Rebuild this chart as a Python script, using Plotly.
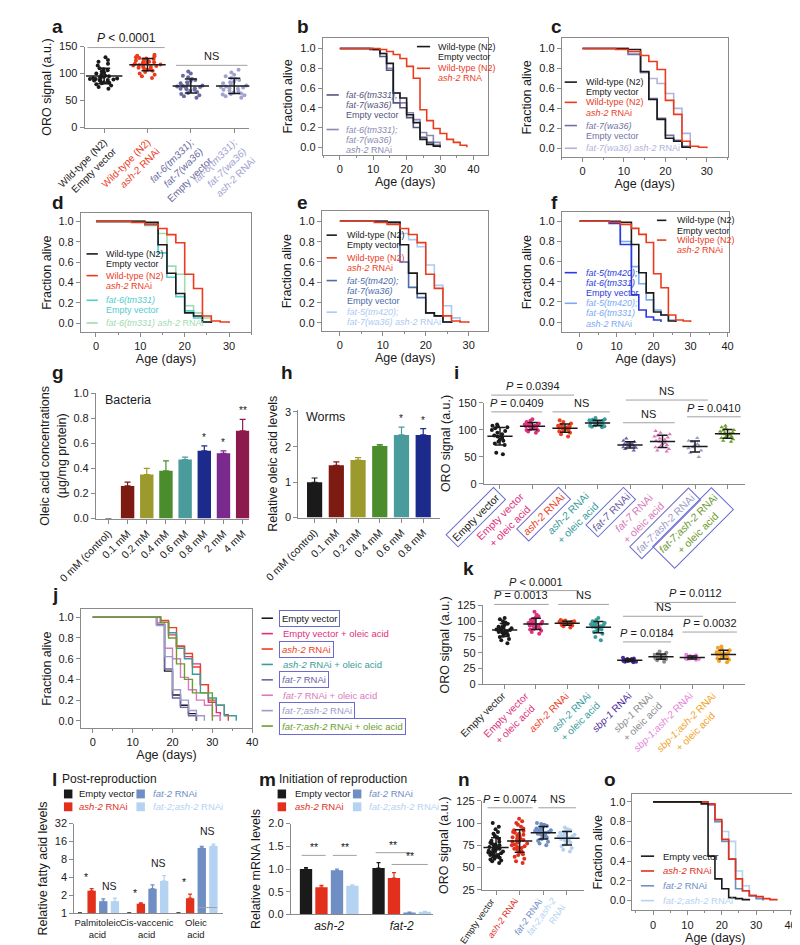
import numpy as np
import plotly.graph_objects as go

W, H = 800, 945
FONT = "Liberation Sans, Arial, Helvetica, sans-serif"
BLACK = "#1a1a1a"
AXC = "#8a8a8a"
RED = "#ec3b1c"

# ================= DATA =================
# --- a: ORO signal dot plot
a_labels = ["Wild-type (N2)<br>Empty vector", "Wild-type (N2)<br><i>ash-2</i> RNAi",
            "<i>fat-6(tm331);</i><br><i>fat-7(wa36)</i><br>Empty vector",
            "<i>fat-6(tm331);</i><br><i>fat-7(wa36)</i><br><i>ash-2</i> RNAi"]
a_colors = [BLACK, RED, "#6a6a9e", "#a2a2cf"]
a_wt_ev = [72, 75, 78, 80, 82, 83, 84, 85, 86, 87, 88, 88, 89, 90, 90, 91, 92, 92, 93, 94, 95, 96, 98,
           100, 102, 104, 106, 108, 110, 115, 118, 122, 125, 130]
a_wt_ash2 = [92, 95, 98, 100, 103, 105, 107, 108, 110, 111, 112, 113, 114, 115, 116, 117, 118, 118, 119,
             120, 121, 122, 123, 124, 125, 126, 127, 128, 129, 130, 132, 133, 135]
a_f67_ev = [55, 58, 60, 62, 64, 66, 68, 70, 71, 72, 73, 74, 75, 76, 77, 78, 80, 82, 84, 86, 88, 90, 93,
            96, 100, 104]
a_f67_ash2 = [55, 58, 60, 61, 62, 63, 65, 67, 68, 70, 72, 73, 74, 75, 76, 78, 80, 82, 84, 85, 88, 90, 92,
              95, 98, 102, 107]
a_series = [a_wt_ev, a_wt_ash2, a_f67_ev, a_f67_ash2]

# --- b survival
b_wt_t = [0, 10, 12, 14, 16, 18, 20, 22, 24, 26, 28, 30]
b_wt_s = [1, 0.99, 0.95, 0.85, 0.55, 0.5, 0.33, 0.25, 0.08, 0.03, 0.01, 0]
b_ash_t = [0, 12, 14, 16, 18, 20, 22, 24, 26, 28, 30, 32, 34, 36, 38]
b_ash_s = [1, 0.99, 0.97, 0.94, 0.9, 0.82, 0.7, 0.38, 0.27, 0.19, 0.14, 0.08, 0.05, 0.02, 0]
b_f67_t = [0, 9, 12, 14, 16, 18, 20, 22, 24, 26, 28, 30]
b_f67_s = [1, 0.99, 0.92, 0.78, 0.45, 0.4, 0.3, 0.2, 0.1, 0.05, 0.02, 0]
b_f67a_t = [0, 9, 12, 14, 16, 18, 20, 22, 24, 26, 28, 30]
b_f67a_s = [1, 0.99, 0.95, 0.8, 0.55, 0.45, 0.35, 0.28, 0.15, 0.12, 0.05, 0]

# --- wild-type curves shared by c-f
wt_t = [0, 11, 14, 16, 18, 20, 22, 24, 26]
wt_s = [1, 0.99, 0.77, 0.49, 0.29, 0.1, 0.07, 0.01, 0]
wta_t = [0, 8, 11, 14, 16, 18, 20, 22, 24, 26, 28, 30]
wta_s = [1, 0.99, 0.97, 0.93, 0.87, 0.79, 0.48, 0.34, 0.07, 0.02, 0.01, 0]
# c
c_f7_t = [0, 11, 14, 16, 18, 20, 22, 24, 26]
c_f7_s = [1, 0.94, 0.76, 0.5, 0.3, 0.13, 0.08, 0.02, 0]
c_f7a_t = [0, 11, 14, 16, 18, 20, 22, 24, 26]
c_f7a_s = [1, 0.95, 0.76, 0.7, 0.65, 0.55, 0.4, 0.15, 0]
# d
d_f6_t = [0, 11, 14, 16, 18, 20, 22, 24, 26]
d_f6_s = [1, 0.96, 0.69, 0.45, 0.26, 0.12, 0.05, 0.01, 0]
d_f6a_t = [0, 11, 14, 16, 18, 20, 22, 24, 26]
d_f6a_s = [1, 0.98, 0.88, 0.56, 0.48, 0.17, 0.1, 0.05, 0]
# e
e_f57_t = [0, 11, 14, 16, 18, 20, 22, 24, 26]
e_f57_s = [1, 0.99, 0.6, 0.35, 0.25, 0.1, 0.07, 0.01, 0]
e_f57a_t = [0, 11, 14, 16, 18, 20, 22, 24, 26, 28]
e_f57a_s = [1, 0.99, 0.88, 0.82, 0.75, 0.57, 0.37, 0.17, 0.05, 0]
# f
f_f56_t = [0, 8, 11, 14, 16, 18, 20, 22]
f_f56_s = [1, 0.98, 0.77, 0.27, 0.12, 0.05, 0.02, 0]
f_f56a_t = [0, 8, 11, 14, 16, 18, 20, 22, 24, 26]
f_f56a_s = [1, 0.99, 0.8, 0.55, 0.38, 0.22, 0.12, 0.07, 0.02, 0]

# --- g bacteria oleic acid
g_labels = ["0 mM (control)", "0.1 mM", "0.2 mM", "0.4 mM", "0.6 mM", "0.8 mM", "2 mM", "4 mM"]
g_vals = [0, 0.26, 0.35, 0.38, 0.47, 0.54, 0.52, 0.70]
g_err = [0, 0.03, 0.05, 0.08, 0.02, 0.04, 0.02, 0.09]
g_stars = ["", "", "", "", "", "*", "*", "**"]
g_colors = [BLACK, "#7d1a12", "#9c9a2c", "#4b8c2c", "#4a9b9b", "#1c2a8c", "#7a2a8c", "#8c1a4c"]
# --- h worms
h_labels = ["0 mM (control)", "0.1 mM", "0.2 mM", "0.4 mM", "0.6 mM", "0.8 mM"]
h_vals = [1.0, 1.48, 1.63, 2.03, 2.34, 2.34]
h_err = [0.12, 0.10, 0.07, 0.04, 0.22, 0.18]
h_stars = ["", "", "", "", "*", "*"]
h_colors = [BLACK, "#7d1a12", "#9c9a2c", "#4b8c2c", "#4a9b9b", "#1c2a8c"]

# --- i
i_labels = ["Empty vector", "Empty vector<br>+ oleic acid", "<i>ash-2</i> RNAi",
            "<i>ash-2</i> RNAi<br>+ oleic acid", "<i>fat-7</i> RNAi", "<i>fat-7</i> RNAi<br>+ oleic acid",
            "<i>fat-7;ash-2</i> RNAi", "<i>fat-7;ash-2</i> RNAi<br>+ oleic acid"]
i_colors = [BLACK, "#e0307c", "#ec401e", "#3a9c9c", "#6c62a6", "#d87abc", "#9c9cca", "#6c9c2c"]
i_boxed = [True, False, True, False, True, False, True, True]
i_symbols = ["circle"] * 4 + ["triangle-up"] * 4
i_ev = [55, 58, 72, 75, 78, 80, 82, 85, 88, 90, 92, 95, 98, 100, 103, 105, 107, 108, 110]
i_ev_ole = [95, 97, 99, 100, 102, 103, 104, 105, 106, 107, 108, 109, 110, 110, 111, 112, 113, 115, 117, 120]
i_ash2 = [88, 92, 95, 97, 98, 100, 101, 102, 103, 104, 105, 106, 107, 108, 110, 112, 115, 118]
i_ash2_ole = [105, 106, 107, 108, 109, 110, 111, 112, 113, 114, 115, 116, 117, 118, 119, 120, 122]
i_f7 = [62, 65, 67, 68, 70, 70, 71, 72, 73, 74, 75, 76, 78, 80, 84]
i_f7_ole = [60, 62, 65, 68, 70, 72, 74, 76, 78, 80, 82, 84, 86, 88, 90, 92, 95, 98]
i_f7a2 = [50, 58, 62, 66, 68, 70, 72, 74, 78, 80, 85]
i_f7a2_ole = [78, 80, 83, 85, 87, 88, 90, 91, 92, 93, 94, 95, 96, 97, 99, 100, 103, 105, 108]
i_series = [i_ev, i_ev_ole, i_ash2, i_ash2_ole, i_f7, i_f7_ole, i_f7a2, i_f7a2_ole]

# --- j survival with oleic acid
j_names = ["Empty vector", "Empty vector + oleic acid", "<i>ash-2</i> RNAi", "<i>ash-2</i> RNAi + oleic acid",
           "<i>fat-7</i> RNAi", "<i>fat-7</i> RNAi + oleic acid", "<i>fat-7;ash-2</i> RNAi",
           "<i>fat-7;ash-2</i> RNAi + oleic acid"]
j_t = [[0, 16, 18, 20, 22, 24, 26],
       [0, 17, 19, 21, 23, 25, 27, 29, 31, 32],
       [0, 17, 19, 21, 23, 25, 27, 29, 31, 33, 34],
       [0, 17, 19, 21, 23, 25, 27, 29, 31, 33, 36],
       [0, 16, 18, 20, 22, 24, 26],
       [0, 16, 18, 20, 22, 24, 26, 28, 30, 32],
       [0, 16, 18, 20, 22, 24, 26, 28],
       [0, 17, 19, 21, 23, 25, 30]]
j_s = [[1, 0.93, 0.48, 0.25, 0.15, 0.07, 0],
       [1, 0.95, 0.83, 0.72, 0.62, 0.55, 0.35, 0.18, 0.08, 0],
       [1, 0.97, 0.9, 0.72, 0.65, 0.52, 0.35, 0.2, 0.15, 0.06, 0],
       [1, 0.95, 0.85, 0.7, 0.6, 0.45, 0.27, 0.22, 0.15, 0.05, 0],
       [1, 0.93, 0.5, 0.22, 0.13, 0.05, 0],
       [1, 0.95, 0.7, 0.6, 0.42, 0.3, 0.2, 0.15, 0.05, 0],
       [1, 0.92, 0.62, 0.3, 0.2, 0.1, 0.05, 0],
       [1, 0.95, 0.8, 0.55, 0.4, 0.27, 0]]
j_boxed = [True, False, True, False, True, False, True, True]

# --- k
k_labels = ["Empty vector", "Empty vector<br>+ oleic acid", "<i>ash-2</i> RNAi",
            "<i>ash-2</i> RNAi<br>+ oleic acid", "<i>sbp-1</i> RNAi", "<i>sbp-1</i> RNAi<br>+ oleic acid",
            "<i>sbp-1;ash-2</i> RNAi", "<i>sbp-1;ash-2</i> RNAi<br>+ oleic acid"]
k_colors = [BLACK, "#e0307c", "#ec401e", "#3a9c9c", "#4a2a9c", "#8c8c8c", "#e484dc", "#f2a224"]
k_ev = [65, 70, 72, 75, 77, 78, 80, 81, 82, 83, 84, 85, 86, 87, 88, 89, 90, 91, 92, 94, 96, 98, 100, 103, 105]
k_ev_ole = [80, 83, 85, 87, 88, 89, 90, 91, 92, 93, 94, 95, 96, 97, 98, 99, 100, 102, 104, 106, 108, 110, 115]
k_ash2 = [90, 92, 93, 94, 95, 95, 96, 96, 97, 97, 98, 98, 99, 99, 100, 100, 101, 102]
k_ash2_ole = [70, 75, 80, 83, 85, 87, 88, 89, 90, 91, 92, 93, 94, 95, 96, 97, 98, 100, 102, 105]
k_sbp1 = [35, 36, 36, 37, 37, 38, 38, 38, 39, 39, 40, 40, 41, 42]
k_sbp1_ole = [36, 38, 40, 41, 42, 42, 43, 43, 44, 44, 45, 45, 46, 47, 48, 50, 52]
k_sbp1a2 = [39, 40, 40, 41, 41, 42, 42, 42, 43, 43, 44, 45, 46, 47]
k_sbp1a2_ole = [35, 37, 39, 41, 42, 43, 44, 45, 46, 47, 48, 49, 50, 51, 52, 54, 56, 58, 60]
k_series = [k_ev, k_ev_ole, k_ash2, k_ash2_ole, k_sbp1, k_sbp1_ole, k_sbp1a2, k_sbp1a2_ole]

# --- l/m/n/o (fat-2)
lm_names = ["Empty vector", "<i>ash-2</i> RNAi", "<i>fat-2</i> RNAi", "<i>fat-2;ash-2</i> RNAi"]
lm_colors = [BLACK, "#e2301c", "#6e8ec4", "#b4d2f2"]
n_ticklabels = ["Empty vector", "<i>ash-2</i> RNAi", "<i>fat-2</i> RNAi", "<i>fat-2;ash-2</i><br>RNAi"]
l_groups = ["Palmitoleic<br>acid", "Cis-vaccenic<br>acid", "Oleic<br>acid"]
l_vals = [[1.0, 1.0, 1.0], [2.4, 1.45, 1.8], [1.6, 2.6, 12.5], [1.6, 3.5, 13.5]]
l_err = [[0.02, 0.02, 0.02], [0.2, 0.06, 0.3], [0.15, 0.4, 0.8], [0.2, 0.8, 1.0]]
m_groups = ["<i>ash-2</i>", "<i>fat-2</i>"]
m_vals = [[1.0, 1.02], [0.6, 0.8], [0.97, 0.04], [0.63, 0.06]]
m_err = [[0.03, 0.12], [0.04, 0.12], [0.03, 0.01], [0.02, 0.01]]
n_ev = [55, 57, 58, 59, 60, 61, 62, 62, 63, 64, 64, 65, 66, 67, 67, 68, 68, 69, 70, 70, 71, 72, 72, 73, 74,
        75, 75, 76, 77, 78, 79, 80, 82, 84, 86, 88, 90, 93, 96, 100]
n_ash2 = [55, 57, 60, 62, 64, 65, 67, 68, 70, 71, 72, 73, 74, 75, 76, 77, 78, 79, 80, 80, 81, 82, 83, 84, 85,
          86, 87, 88, 89, 90, 91, 92, 94, 96, 98, 100, 102, 105]
n_fat2 = [75, 77, 79, 80, 82, 84, 85, 86, 87, 88, 89, 90, 90, 91, 92, 92, 93, 94, 95, 96, 97, 98, 99, 100]
n_fat2ash2 = [68, 70, 72, 74, 76, 78, 79, 80, 81, 82, 83, 84, 85, 85, 86, 87, 88, 89, 90, 91, 92, 93, 95]
n_series = [n_ev, n_ash2, n_fat2, n_fat2ash2]
o_t = [[0, 14, 16, 18, 20, 22, 24, 26, 28],
       [0, 16, 18, 20, 22, 24, 26, 28, 30, 32, 34, 36],
       [0, 16, 18, 20, 22, 24, 26, 28, 30, 32],
       [0, 16, 18, 20, 22, 24, 26, 28, 30, 32]]
o_s = [[1, 0.98, 0.45, 0.22, 0.12, 0.03, 0.02, 0.01, 0],
       [1, 0.98, 0.82, 0.62, 0.42, 0.22, 0.1, 0.05, 0.04, 0.02, 0.01, 0],
       [1, 0.97, 0.8, 0.6, 0.42, 0.12, 0.1, 0.05, 0.02, 0],
       [1, 0.97, 0.8, 0.7, 0.6, 0.3, 0.15, 0.05, 0.02, 0]]

# ================= HELPERS =================
fig = go.Figure()
layout = dict(width=W, height=H, margin=dict(l=0, r=0, t=0, b=0), paper_bgcolor="white",
              plot_bgcolor="white", showlegend=False, barmode="overlay", boxmode="overlay",
              font=dict(family=FONT, size=11, color=BLACK))
annotations, shapes = [], []
counter = [0]


def px(x):
    return x / W


def py(y):
    return 1 - y / H


def axes(x0, x1, y0, y1, xr, yr, box=False, xkw=None, ykw=None, xt=None, yt=None, tsize=12.5):
    counter[0] += 1
    n = counter[0]
    s = "" if n == 1 else str(n)
    def base():
        return dict(showline=True, linecolor=AXC, linewidth=1, mirror=box, ticks="outside", ticklen=4,
                    tickwidth=1, tickcolor=AXC, showgrid=False, zeroline=False,
                    tickfont=dict(size=11, color=BLACK, family=FONT))
    xa = base()
    xa.update(domain=[px(x0), px(x1)], range=xr, anchor="y" + s)
    ya = base()
    ya.update(domain=[py(y1), py(y0)], range=yr, anchor="x" + s)
    if xt:
        xa["title"] = dict(text=xt, font=dict(size=tsize, color=BLACK, family=FONT), standoff=2)
    if yt:
        ya["title"] = dict(text=yt, font=dict(size=tsize, color=BLACK, family=FONT), standoff=4)
    if xkw:
        xa.update(xkw)
    if ykw:
        ya.update(ykw)
    layout["xaxis" + s] = xa
    layout["yaxis" + s] = ya
    return "x" + s, "y" + s


def txt(x, y, s, size=11, color=BLACK, xa="center", ya="middle", angle=0, **kw):
    d = dict(xref="paper", yref="paper", x=px(x), y=py(y), text=s, showarrow=False, xanchor=xa,
             yanchor=ya, textangle=angle, font=dict(size=size, color=color, family=FONT))
    d.update(kw)
    annotations.append(d)


def hline(x0, x1, y, color="#a0a0a0", width=1):
    shapes.append(dict(type="line", xref="paper", yref="paper", x0=px(x0), x1=px(x1), y0=py(y), y1=py(y),
                       line=dict(color=color, width=width)))


def bracket(x0, x1, y, label, size=11):
    hline(x0, x1, y)
    txt((x0 + x1) / 2, y - 1, label, size=size, ya="bottom")


def letter(x, y, s):
    txt(x, y, "<b>%s</b>" % s, size=19, xa="left", ya="middle")


def colorize(t, c):
    return "<br>".join('<span style="color:%s">%s</span>' % (c, p) for p in t.split("<br>"))


def surv(xa, ya, t, s, color, width=1.6):
    fig.add_trace(go.Scatter(x=t, y=s, mode="lines", line=dict(color=color, width=width, shape="hv"),
                             xaxis=xa, yaxis=ya, hoverinfo="skip"))


def sleg(x0, x1, y, color, lines, tx, dy=10.3, size=9):
    hline(x0, x1, y, color=color, width=1.6)
    for k, l in enumerate(lines):
        txt(tx, y + k * dy, l, size=size, color=color, xa="left")


def cloud(xa, ya, pos, vals, color, symbol="circle", size=4, width=0.7, jitter=0.9, mean_w=22, cap=6):
    fig.add_trace(go.Box(x=[pos] * len(vals), y=vals, xaxis=xa, yaxis=ya, boxpoints="all", jitter=jitter,
                         pointpos=0, width=width, marker=dict(color=color, size=size, symbol=symbol),
                         line=dict(width=0, color="rgba(0,0,0,0)"), fillcolor="rgba(0,0,0,0)",
                         hoverinfo="skip"))
    m, s = float(np.mean(vals)), float(np.std(vals, ddof=1))
    fig.add_trace(go.Scatter(x=[pos], y=[m], xaxis=xa, yaxis=ya, mode="markers",
                             marker=dict(symbol="line-ew", size=mean_w, color=BLACK,
                                         line=dict(width=1.5, color=BLACK)),
                             error_y=dict(type="data", array=[s], color=BLACK, thickness=1.5, width=cap),
                             hoverinfo="skip"))


SURV_Y = dict(tickvals=[0, 0.2, 0.4, 0.6, 0.8, 1.0], tickformat=".1f")


def surv_x(vals):
    return dict(tickvals=vals, minor=dict(ticks="outside", dtick=5, ticklen=2, tickcolor=AXC))


# ================= PANEL a =================
letter(3, 13, "a")
xa, ya = axes(40, 215, 33, 115, [-0.45, 3.35], [0, 150],
              xkw=dict(tickvals=[0, 1, 2, 3], ticktext=[colorize(t, c) for t, c in zip(a_labels, a_colors)],
                       tickangle=-45, tickfont=dict(size=10, family=FONT)),
              ykw=dict(tickvals=[0, 50, 100, 150]), yt="ORO signal (a.u.)")
for i, (v, c) in enumerate(zip(a_series, a_colors)):
    cloud(xa, ya, i, v, c, width=0.75, mean_w=26)
bracket(43, 125, 34, "<i>P</i> < 0.0001", size=12)
bracket(137, 213, 52, "NS")

# ================= PANEL b =================
letter(263, 13, "b")
xa, ya = axes(293, 468, 24, 143, [-5.1, 44.2], [-0.08, 1.11], box=True, xkw=surv_x([0, 10, 20, 30, 40]),
              ykw=SURV_Y, xt="Age (days)", yt="Fraction alive")
surv(xa, ya, b_f67a_t, b_f67a_s, "#8a8ab2")
surv(xa, ya, b_f67_t, b_f67_s, "#55557c")
surv(xa, ya, b_wt_t, b_wt_s, BLACK)
surv(xa, ya, b_ash_t, b_ash_s, RED)
sleg(393, 407, 33, BLACK, ["Wild-type (N2)", "Empty vector"], 413)
sleg(393, 407, 55, RED, ["Wild-type (N2)", "<i>ash-2</i> RNA"], 413)
sleg(297, 310, 82, "#55557c", ["<i>fat-6(tm331);</i>", "<i>fat-7(wa36)</i>", "Empty vector"], 316)
sleg(297, 310, 117, "#8a8ab2", ["<i>fat-6(tm331);</i>", "<i>fat-7(wa36)</i>", "<i>ash-2</i> RNAi"], 316)

# ================= PANEL c =================
letter(533, 13, "c")
xa, ya = axes(547, 723, 24, 145, [-5, 35], [-0.089, 1.109], box=True, xkw=surv_x([0, 10, 20, 30]),
              ykw=SURV_Y, xt="Age (days)", yt="Fraction alive")
surv(xa, ya, c_f7a_t, c_f7a_s, "#b2b2da")
surv(xa, ya, c_f7_t, c_f7_s, "#7272a4")
surv(xa, ya, wt_t, wt_s, BLACK)
surv(xa, ya, wta_t, wta_s, RED)
sleg(550, 563, 69, BLACK, ["Wild-type (N2)", "Empty vector"], 570)
sleg(550, 563, 89.5, RED, ["Wild-type (N2)", "<i>ash-2</i> RNAi"], 570)
sleg(550, 563, 113, "#7272a4", ["<i>fat-7(wa36)</i>", "Empty vector"], 570)
sleg(550, 563, 136, "#b2b2da", ["<i>fat-7(wa36) ash-2</i> RNAi"], 570)

# ================= PANEL d =================
letter(3, 191, "d")
xa, ya = axes(36, 217, 202, 322, [-3.4, 35], [-0.087, 1.078], box=True, xkw=surv_x([0, 10, 20, 30]),
              ykw=SURV_Y, xt="Age (days)", yt="Fraction alive")
surv(xa, ya, d_f6a_t, d_f6a_s, "#9edcb0")
surv(xa, ya, d_f6_t, d_f6_s, "#52cccc")
surv(xa, ya, wt_t, wt_s, BLACK)
surv(xa, ya, wta_t, wta_s, RED)
sleg(42, 54, 243, BLACK, ["Wild-type (N2)", "Empty vector"], 61)
sleg(42, 54, 265, RED, ["Wild-type (N2)", "<i>ash-2</i> RNAi"], 61)
sleg(42, 54, 290, "#52cccc", ["<i>fat-6(tm331)</i>", "Empty vector"], 61)
sleg(42, 54, 313, "#9edcb0", ["<i>fat-6(tm331) ash-2</i> RNAi"], 61)

# ================= PANEL e =================
letter(263, 191, "e")
xa, ya = axes(292, 469, 200, 321, [-4.2, 34.6], [-0.078, 1.097], box=True, xkw=surv_x([0, 10, 20, 30]),
              ykw=SURV_Y, xt="Age (days)", yt="Fraction alive")
surv(xa, ya, e_f57a_t, e_f57a_s, "#aacaf2")
surv(xa, ya, e_f57_t, e_f57_s, "#4c6caa")
surv(xa, ya, wt_t, wt_s, BLACK)
surv(xa, ya, wta_t, wta_s, RED)
sleg(297, 308, 224, BLACK, ["Wild-type (N2)", "Empty vector"], 317)
sleg(297, 308, 247, RED, ["Wild-type (N2)", "<i>ash-2</i> RNAi"], 317)
sleg(297, 308, 270, "#4c6caa", ["<i>fat-5(tm420);</i>", "<i>fat-7(wa36)</i>", "Empty vector"], 317)
sleg(297, 308, 302, "#aacaf2", ["<i>fat-5(tm420);</i>", "<i>fat-7(wa36) ash-2</i> RNAi"], 317)

# ================= PANEL f =================
letter(533, 191, "f")
xa, ya = axes(547, 725, 201, 322, [-4.8, 40.5], [-0.098, 1.088], box=True,
              xkw=surv_x([0, 10, 20, 30, 40]), ykw=SURV_Y, xt="Age (days)", yt="Fraction alive")
surv(xa, ya, f_f56a_t, f_f56a_s, "#7aaaf2")
surv(xa, ya, f_f56_t, f_f56_s, "#2c3cdc")
surv(xa, ya, wt_t, wt_s, BLACK)
surv(xa, ya, wta_t, wta_s, RED)
sleg(648, 658, 209, BLACK, ["Wild-type (N2)", "Empty vector"], 667)
sleg(648, 658, 229, RED, ["Wild-type (N2)", "<i>ash-2</i> RNAi"], 667)
sleg(550, 563, 262, "#2c3cdc", ["<i>fat-5(tm420);</i>", "<i>fat-6(tm331)</i>", "Empty vector"], 570)
sleg(550, 563, 293, "#7aaaf2", ["<i>fat-5(tm420);</i>", "<i>fat-6(tm331)</i>", "<i>ash-2</i> RNAi"], 570)

# ================= PANEL g =================
letter(3, 363, "g")
xa, ya = axes(52, 215, 384, 511, [-0.65, 7.35], [0, 1.0],
              xkw=dict(tickvals=list(range(8)), ticktext=g_labels, tickangle=-45,
                       tickfont=dict(size=10.5, family=FONT)),
              ykw=dict(tickvals=[0, 0.2, 0.4, 0.6, 0.8, 1.0], tickformat=".1f"),
              yt="Oleic acid concentrations<br>(µg/mg protein)")
for i, (v, e, c, s) in enumerate(zip(g_vals, g_err, g_colors, g_stars)):
    fig.add_trace(go.Bar(x=[i], y=[v], width=0.7, marker=dict(color=c, line=dict(width=0)), xaxis=xa, yaxis=ya,
                         error_y=dict(type="data", array=[e], arrayminus=[0], symmetric=False, color=c,
                                      thickness=1.2, width=3), hoverinfo="skip"))
    if s:
        annotations.append(dict(xref=xa, yref=ya, x=i, y=v + e + 0.01, text=s, showarrow=False, yanchor="bottom",
                                font=dict(size=10, color=BLACK, family=FONT)))
txt(60, 391, "Bacteria", size=12.5, xa="left")

# ================= PANEL h =================
letter(247, 363, "h")
xa, ya = axes(267, 417, 401, 510, [-0.75, 5.75], [0, 3.05],
              xkw=dict(tickvals=list(range(6)), ticktext=h_labels, tickangle=-45,
                       tickfont=dict(size=10.5, family=FONT)),
              ykw=dict(tickvals=[0, 1, 2, 3]), yt="Relative oleic acid levels")
for i, (v, e, c, s) in enumerate(zip(h_vals, h_err, h_colors, h_stars)):
    fig.add_trace(go.Bar(x=[i], y=[v], width=0.7, marker=dict(color=c, line=dict(width=0)), xaxis=xa, yaxis=ya,
                         error_y=dict(type="data", array=[e], arrayminus=[0], symmetric=False, color=c,
                                      thickness=1.2, width=3), hoverinfo="skip"))
    if s:
        annotations.append(dict(xref=xa, yref=ya, x=i, y=v + e + 0.03, text=s, showarrow=False, yanchor="bottom",
                                font=dict(size=10, color=BLACK, family=FONT)))
txt(273, 408, "Worms", size=12.5, xa="left")

# ================= PANEL i =================
letter(430, 363, "i")
xa, ya = axes(464, 742, 394, 476, [-0.5, 7.55], [0, 150],
              xkw=dict(tickvals=list(range(8)), showticklabels=False),
              ykw=dict(tickvals=[0, 50, 100, 150]), yt="ORO signal (a.u.)")
for i, (v, c, sym) in enumerate(zip(i_series, i_colors, i_symbols)):
    cloud(xa, ya, i, v, c, symbol=sym, size=4, width=0.6, mean_w=18, cap=5)
for i, (t, c, b) in enumerate(zip(i_labels, i_colors, i_boxed)):
    d = dict(xref=xa, yref="paper", x=i + 0.2, y=py(479), text=t, showarrow=False, xanchor="right",
             yanchor="top", textangle=-45, align="center", font=dict(size=10.5, color=c, family=FONT))
    if b:
        d.update(bordercolor="#6a6ad0", borderwidth=1, borderpad=2)
    annotations.append(d)
bracket(472, 560, 386, "<i>P</i> = 0.0394")
bracket(472, 526, 403, "<i>P</i> = 0.0409")
bracket(537, 598, 403, "NS")
bracket(615, 702, 391, "NS")
bracket(612, 667, 414, "NS")
bracket(680, 737, 408, "<i>P</i> = 0.0410")

# ================= PANEL j =================
letter(3, 588, "j")
xa, ya = axes(36, 218, 603, 723, [-3, 40], [-0.067, 1.076], box=True, xkw=surv_x([0, 10, 20, 30, 40]),
              ykw=SURV_Y, xt="Age (days)", yt="Fraction alive")
for t, s, c in zip(j_t, j_s, i_colors):
    surv(xa, ya, t, s, c, width=1.4)
for k, (nm, c, b) in enumerate(zip(j_names, i_colors, j_boxed)):
    y = 612 + k * 15.6
    hline(228, 240, y, color=c, width=1.6)
    d = dict(xref="paper", yref="paper", x=px(246), y=py(y), text=nm, showarrow=False, xanchor="left",
             yanchor="middle", font=dict(size=9.5, color=c, family=FONT))
    if b:
        d.update(bordercolor="#6a6ad0", borderwidth=1, borderpad=2)
    else:
        d.update(borderpad=3)
    annotations.append(d)

# ================= PANEL k =================
letter(440, 562, "k")
xa, ya = axes(463, 742, 599, 679, [-0.7, 7.7], [0, 125],
              xkw=dict(tickvals=list(range(8)), showticklabels=False),
              ykw=dict(tickvals=[0, 25, 50, 75, 100, 125]), yt="ORO signal (a.u.)")
for i, (v, c) in enumerate(zip(k_series, k_colors)):
    cloud(xa, ya, i, v, c, size=4, width=0.6, mean_w=18, cap=5)
for i, (t, c) in enumerate(zip(k_labels, k_colors)):
    annotations.append(dict(xref=xa, yref="paper", x=i + 0.2, y=py(682), text=t, showarrow=False,
                            xanchor="right", yanchor="top", textangle=-45, align="center",
                            font=dict(size=10, color=c, family=FONT)))
bracket(475, 565, 584, "<i>P</i> < 0.0001")
bracket(475, 533, 598, "<i>P</i> = 0.0013")
bracket(543, 597, 598, "NS")
bracket(645, 732, 596, "<i>P</i> = 0.0112")
bracket(612, 697, 610, "NS")
bracket(675, 733, 626, "<i>P</i> = 0.0032")
bracket(612, 663, 636, "<i>P</i> = 0.0184")

# ================= PANEL l =================
letter(3, 775, "l")
txt(14, 775, "Post-reproduction", size=12, xa="left")
xa, ya = axes(29, 187, 820, 911, [-0.47, 2.55], [0, np.log10(32)],
              xkw=dict(tickvals=[0, 1, 2], ticktext=l_groups, ticks="", tickangle=0,
                       tickfont=dict(size=9.5, family=FONT)),
              ykw=dict(type="log", tickvals=[1, 2, 4, 8, 16, 32], ticktext=["1", "2", "4", "8", "16", "32"]),
              yt="Relative fatty acid levels")
offs = [-0.355, -0.118, 0.118, 0.355]
for vals, errs, c, o in zip(l_vals, l_err, lm_colors, offs):
    fig.add_trace(go.Bar(x=[0, 1, 2], y=vals, width=0.17, offset=o - 0.085, marker=dict(color=c, line=dict(width=0)),
                         error_y=dict(type="data", array=errs, arrayminus=[0, 0, 0], symmetric=False, color=c,
                                      thickness=1.2, width=2), xaxis=xa, yaxis=ya, hoverinfo="skip"))
for x0, x1, yv, lab in [(-0.43, -0.05, 3.0, "*"), (0.05, 0.43, 2.1, "NS"), (0.57, 0.95, 1.6, "*"),
                        (1.05, 1.43, 5.2, "NS"), (1.57, 1.95, 2.5, "*"), (2.05, 2.43, 18, "NS")]:
    shapes.append(dict(type="line", xref=xa, yref=ya, x0=x0, x1=x1, y0=np.log10(yv), y1=np.log10(yv),
                       line=dict(color="#a0a0a0", width=1)))
    annotations.append(dict(xref=xa, yref=ya, x=(x0 + x1) / 2, y=np.log10(yv), text=lab, showarrow=False,
                            yanchor="bottom", font=dict(size=10.5, color=BLACK, family=FONT)))


def sq_legend(x1, x2, tx1, tx2):
    for k, (nm, c) in enumerate(zip(lm_names, lm_colors)):
        col = k // 2
        row = k % 2
        x = [x1, x2][col]
        y = 790 + row * 13
        shapes.append(dict(type="rect", xref="paper", yref="paper", x0=px(x), x1=px(x + 9), y0=py(y + 4.5),
                           y1=py(y - 4.5), fillcolor=c, line=dict(width=0)))
        txt([tx1, tx2][col], y, nm, size=9.5, color=c, xa="left")


sq_legend(18, 95, 32, 110)

# ================= PANEL m =================
letter(223, 775, "m")
txt(244, 775, "Initiation of reproduction", size=12, xa="left")
xa, ya = axes(259, 410, 820, 912, [-0.53, 1.43], [0, 2.0],
              xkw=dict(tickvals=[0, 1], ticktext=m_groups, ticks="", tickfont=dict(size=12, family=FONT)),
              ykw=dict(tickvals=[0, 0.5, 1.0, 1.5, 2.0], tickformat=".1f"), yt="Relative mRNA levels")
offs = [-0.32, -0.107, 0.107, 0.32]
for vals, errs, c, o in zip(m_vals, m_err, lm_colors, offs):
    fig.add_trace(go.Bar(x=[0, 1], y=vals, width=0.17, offset=o - 0.085, marker=dict(color=c, line=dict(width=0)),
                         error_y=dict(type="data", array=errs, arrayminus=[0, 0], symmetric=False, color=c,
                                      thickness=1.2, width=2), xaxis=xa, yaxis=ya, hoverinfo="skip"))
for x0, x1, yv in [(-0.38, -0.05, 1.3), (0.05, 0.38, 1.3), (0.64, 1.12, 1.36), (0.86, 1.36, 1.1)]:
    shapes.append(dict(type="line", xref=xa, yref=ya, x0=x0, x1=x1, y0=yv, y1=yv,
                       line=dict(color="#a0a0a0", width=1)))
    annotations.append(dict(xref=xa, yref=ya, x=(x0 + x1) / 2, y=yv, text="**", showarrow=False,
                            yanchor="bottom", font=dict(size=10.5, color=BLACK, family=FONT)))
sq_legend(245, 325, 261, 340)

# ================= PANEL n =================
letter(435, 775, "n")
xa, ya = axes(462, 570, 797, 887, [-0.6, 3.7], [25, 125],
              xkw=dict(tickvals=[0, 1, 2, 3], showticklabels=False),
              ykw=dict(tickvals=[25, 50, 75, 100, 125]), yt="ORO signal (a.u.)")
for i, (v, c) in enumerate(zip(n_series, lm_colors)):
    cloud(xa, ya, i, v, c, size=4, width=0.8, mean_w=18, cap=5)
for i, (t, c) in enumerate(zip(n_ticklabels, lm_colors)):
    annotations.append(dict(xref=xa, yref="paper", x=i + 0.15, y=py(891), text=t, showarrow=False,
                            xanchor="right", yanchor="top", textangle=-55, align="right",
                            font=dict(size=9, color=c, family=FONT)))
bracket(468, 516, 804, "<i>P</i> = 0.0074")
bracket(522, 562, 804, "NS")

# ================= PANEL o =================
letter(590, 775, "o")
xa, ya = axes(622, 798, 790, 908, [-6, 42.2], [-0.1, 1.08], box=True, xkw=surv_x([0, 10, 20, 30, 40]),
              ykw=SURV_Y, xt="Age (days)", yt="Fraction alive")
for t, s, c in zip(o_t[::-1], o_s[::-1], lm_colors[::-1]):
    surv(xa, ya, t, s, c)
for k, (nm, c) in enumerate(zip(lm_names, lm_colors)):
    y = 853 + k * 15
    hline(631, 645, y, color=c, width=1.6)
    txt(652, y, nm, size=9.5, color=c, xa="left")

layout["annotations"] = annotations
layout["shapes"] = shapes
fig.update_layout(**layout)
fig.write_html("out.html")
